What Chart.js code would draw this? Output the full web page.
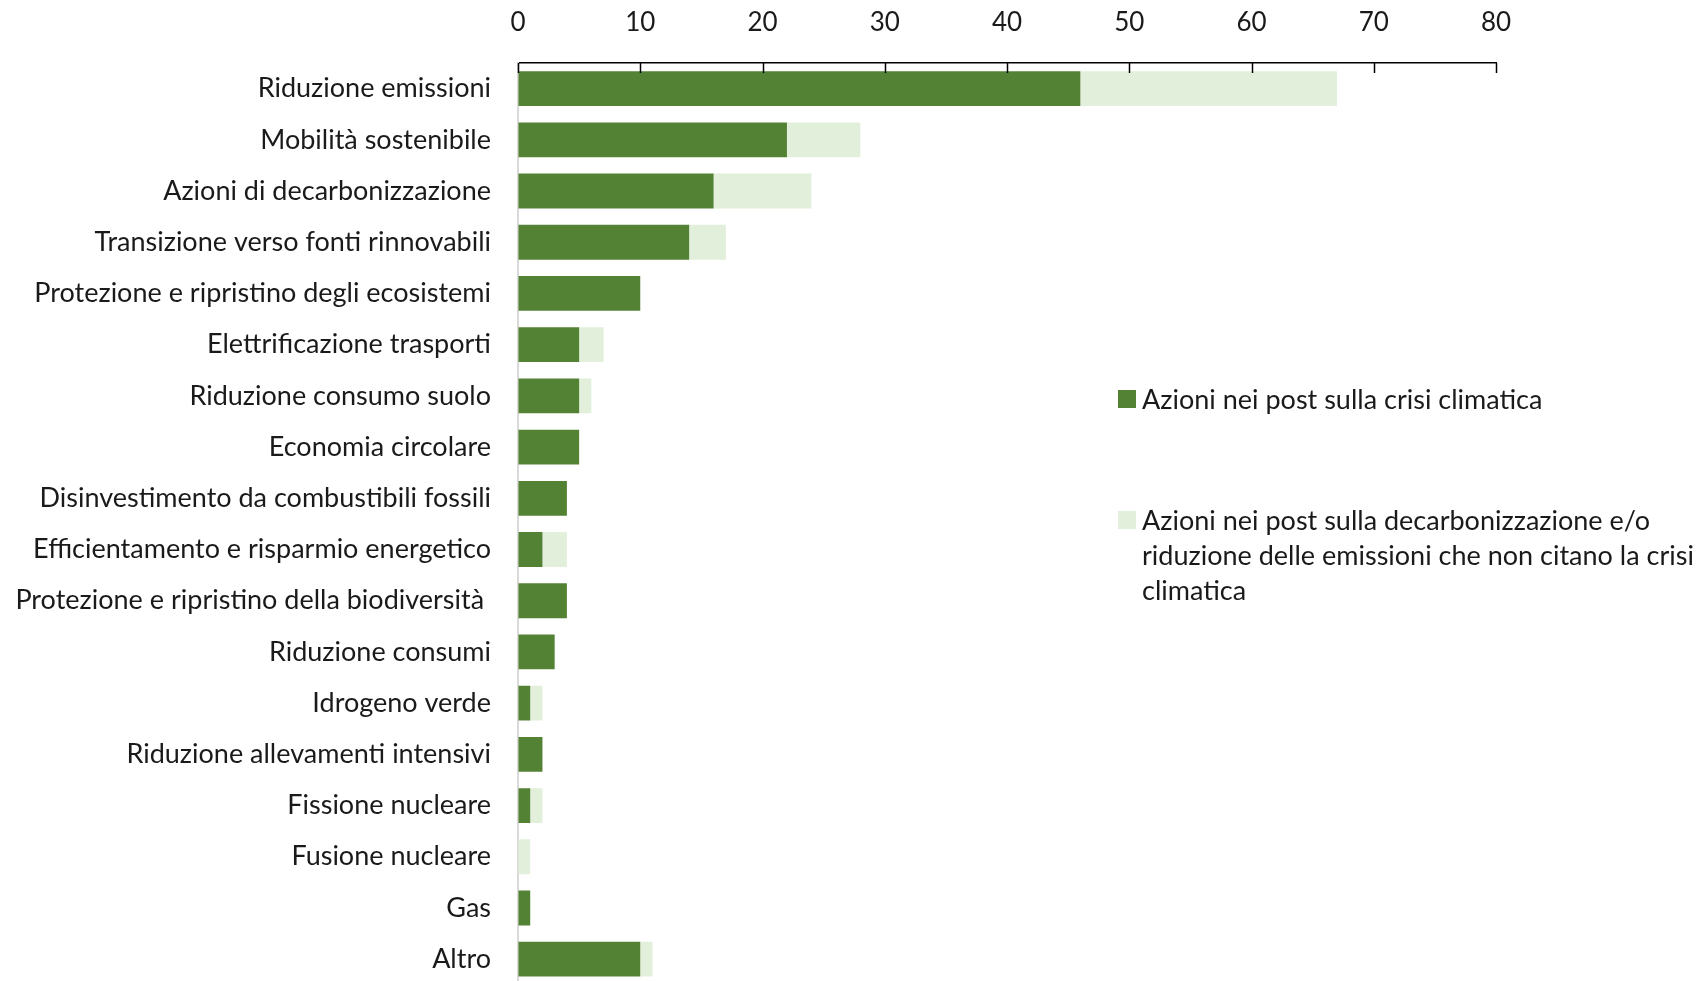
<!DOCTYPE html>
<html>
<head>
<meta charset="utf-8">
<script src="https://cdn.jsdelivr.net/npm/chart.js@4/dist/chart.umd.min.js"></script>
<style>
  html, body { margin: 0; padding: 0; background: #fff; overflow: hidden; }
  #wrap { position: relative; width: 1699px; height: 1028px; }
  #legend { position: absolute; left: 1118px; top: 0; font-family: "Lato", sans-serif; font-size: 27px; color: #1a1a1a; }
  .item { position: absolute; left: 0; white-space: nowrap; line-height: 35px; }
  .sw { position: absolute; left: 0; width: 18px; height: 18px; }
  .txt { position: absolute; left: 24px; }
</style>
</head>
<body>
<div id="wrap">
  <canvas id="chart" width="1699" height="1028"></canvas>
  <div id="legend"></div>
</div>
<script>
// categories and series
const categories = [
  "Riduzione emissioni",
  "Mobilità sostenibile",
  "Azioni di decarbonizzazione",
  "Transizione verso fonti rinnovabili",
  "Protezione e ripristino degli ecosistemi",
  "Elettrificazione trasporti",
  "Riduzione consumo suolo",
  "Economia circolare",
  "Disinvestimento da combustibili fossili",
  "Efficientamento e risparmio energetico",
  "Protezione e ripristino della biodiversità ",
  "Riduzione consumi",
  "Idrogeno verde",
  "Riduzione allevamenti intensivi",
  "Fissione nucleare",
  "Fusione nucleare",
  "Gas",
  "Altro"
];
const crisiValues = [46, 22, 16, 14, 10, 5, 5, 5, 4, 2, 4, 3, 1, 2, 1, 0, 1, 10];
const decarbValues = [21, 6, 8, 3, 0, 2, 1, 0, 0, 2, 0, 0, 1, 0, 1, 1, 0, 1];
const xTicks = [0, 10, 20, 30, 40, 50, 60, 70, 80];

const seriesNames = [
  "Azioni nei post sulla crisi climatica",
  ["Azioni nei post sulla decarbonizzazione e/o", "riduzione delle emissioni che non citano la crisi", "climatica"]
];
const darkGreen = "#548235";
const lightGreen = "#e2efda";
const font = "Lato";

// tick marks pointing down into the plot, like the original
const innerTicks = {
  id: "innerTicks",
  afterDraw(chart) {
    const ctx = chart.ctx;
    const xs = chart.scales.x;
    ctx.save();
    ctx.strokeStyle = "#000";
    ctx.lineWidth = 1.5;
    xTicks.forEach(v => {
      const px = Math.round(xs.getPixelForValue(v)) + 0.5;
      ctx.beginPath();
      ctx.moveTo(px, xs.bottom);
      ctx.lineTo(px, xs.bottom + 10);
      ctx.stroke();
    });
    ctx.restore();
  }
};

new Chart(document.getElementById("chart"), {
  type: "bar",
  data: {
    labels: categories,
    datasets: [
      { label: "crisi", data: crisiValues, backgroundColor: darkGreen, barPercentage: 0.68, categoryPercentage: 1 },
      { label: "decarb", data: decarbValues, backgroundColor: lightGreen, barPercentage: 0.68, categoryPercentage: 1 }
    ]
  },
  options: {
    indexAxis: "y",
    responsive: false,
    animation: false,
    layout: { padding: { top: 0, right: 203, bottom: 0, left: 0 } },
    plugins: { legend: { display: false }, tooltip: { enabled: false } },
    scales: {
      x: {
        position: "top",
        stacked: true,
        min: 0, max: 80,
        afterBuildTicks: s => { s.ticks = xTicks.map(v => ({ value: v })); },
        afterFit: s => { s.height = 63; },
        grid: { drawOnChartArea: false, drawTicks: false },
        border: { display: true, color: "#000", width: 1.5 },
        ticks: { color: "#1a1a1a", font: { family: font, size: 26 }, padding: 25, maxRotation: 0 }
      },
      y: {
        stacked: true,
        afterFit: s => { s.width = 518; },
        grid: { display: false, drawTicks: false },
        border: { display: true, color: "#d9d9d9", width: 2 },
        ticks: { color: "#1a1a1a", font: { family: font, size: 27 }, padding: 27, autoSkip: false }
      }
    }
  },
  plugins: [innerTicks]
});

// legend on the right
const legend = document.getElementById("legend");
const legendTops = [381, 502];
[darkGreen, lightGreen].forEach((col, i) => {
  const item = document.createElement("div");
  item.className = "item";
  item.style.top = legendTops[i] + "px";
  const lines = Array.isArray(seriesNames[i]) ? seriesNames[i] : [seriesNames[i]];
  item.innerHTML = `<div class="sw" style="background:${col};top:9px"></div><div class="txt">${lines.join("<br>")}</div>`;
  legend.appendChild(item);
});
</script>
</body>
</html>
